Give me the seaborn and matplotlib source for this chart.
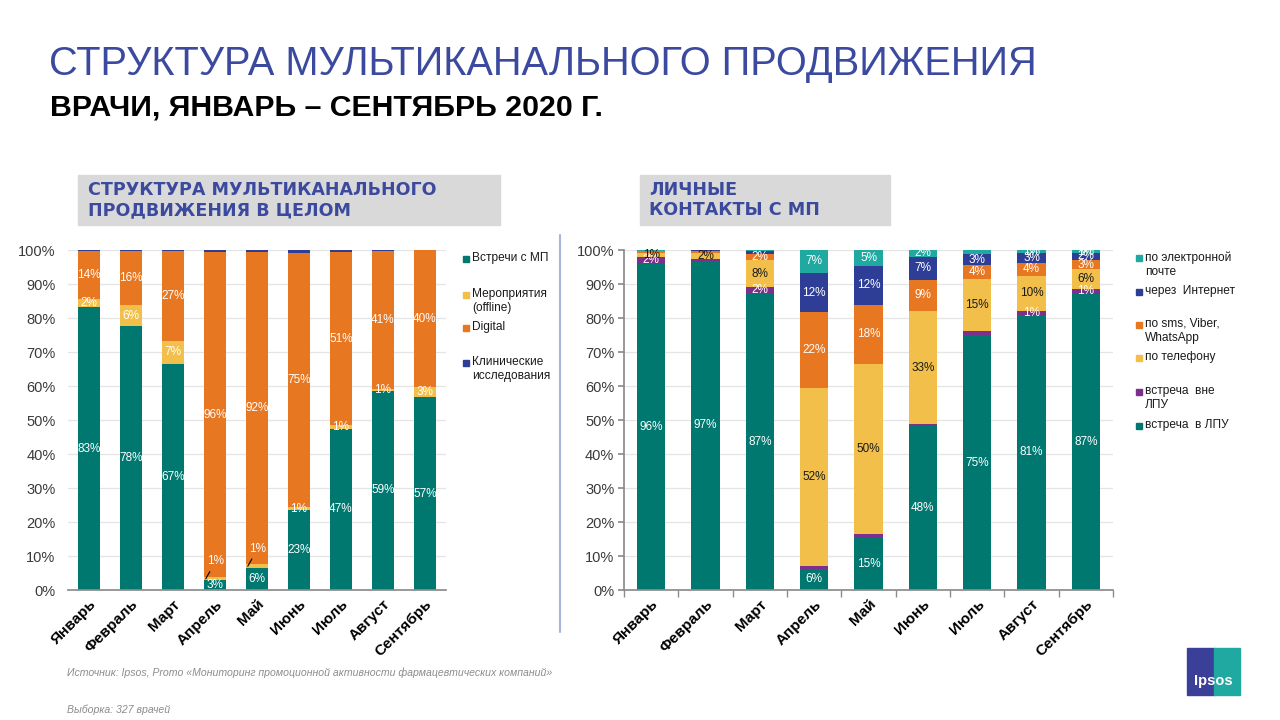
import numpy as np
import pandas as pd
import seaborn as sns
import matplotlib
matplotlib.use("Agg")
import matplotlib.pyplot as plt
from matplotlib.patches import Rectangle
from matplotlib.lines import Line2D

# ---------------- data ----------------
months = ["Январь", "Февраль", "Март", "Апрель", "Май", "Июнь", "Июль", "Август", "Сентябрь"]

# left chart: structure of multichannel promotion overall (bottom -> top)
left_series = ["Встречи с МП", "Мероприятия\n(offline)", "Digital", "Клинические\nисследования"]
left_meetings = [83.2, 77.6, 66.6, 2.9, 6.4, 23.4, 47.4, 58.6, 56.7]
left_events = [2.4, 6.2, 6.6, 0.8, 1.2, 1.0, 1.0, 0.6, 3.0]
left_digital = [14.1, 15.9, 26.6, 95.7, 91.7, 74.6, 51.0, 40.6, 40.2]
left_clinical = [0.3, 0.3, 0.2, 0.6, 0.7, 1.0, 0.6, 0.2, 0.1]

# right chart: personal contacts with MR (bottom -> top)
right_series = ["встреча  в ЛПУ", "встреча  вне\nЛПУ", "по телефону", "по sms, Viber,\nWhatsApp",
                "через  Интернет", "по электронной\nпочте"]
r_in_lpu = [96.0, 96.9, 87.2, 6.3, 15.4, 48.4, 75.0, 81.0, 87.2]
r_out_lpu = [2.0, 0.4, 1.8, 0.8, 1.2, 0.3, 1.2, 1.1, 1.2]
r_phone = [1.0, 1.8, 8.0, 52.4, 49.8, 33.4, 15.3, 10.3, 5.9]
r_sms = [0.6, 0.7, 1.8, 22.2, 17.5, 9.1, 4.2, 3.8, 2.8]
r_internet = [0.2, 0.2, 0.9, 11.6, 11.5, 6.8, 3.0, 2.9, 2.0]
r_email = [0.2, 0.0, 0.3, 6.7, 4.6, 2.0, 1.3, 0.9, 0.9]

# which segments carry a value label in the right chart (series indices per month)
right_labelled = [[0, 1, 2], [0, 2], [0, 1, 2, 3], [0, 2, 3, 4, 5], [0, 2, 3, 4, 5],
                  [0, 2, 3, 4, 5], [0, 2, 3, 4], [0, 1, 2, 3, 4, 5], [0, 1, 2, 3, 4, 5]]

yticks = [0, 10, 20, 30, 40, 50, 60, 70, 80, 90, 100]

# ---------------- style ----------------
TEAL = "#00776f"
YELLOW = "#f2bf4a"
ORANGE = "#e87722"
BLUE = "#2e3e96"
PURPLE = "#7d2f8e"
LTEAL = "#1fa9a0"
TITLE_BLUE = "#3b4a9e"

sns.set_theme(style="white")
plt.rcParams["font.family"] = ["Liberation Sans", "DejaVu Sans"]

fig = plt.figure(figsize=(12.8, 7.2), dpi=100)
fig.patch.set_facecolor("white")

W, H = 1280, 720


def fx(px):
    return px / W


def fy(py):
    return 1 - py / H


# titles
fig.text(fx(49), fy(64), "СТРУКТУРА МУЛЬТИКАНАЛЬНОГО ПРОДВИЖЕНИЯ", fontsize=28.6,
         color=TITLE_BLUE, va="center", ha="left")
fig.text(fx(50), fy(107), "ВРАЧИ, ЯНВАРЬ – СЕНТЯБРЬ 2020 Г.", fontsize=21.8,
         fontweight="bold", color="black", va="center", ha="left")

# grey header boxes
fig.patches.append(Rectangle((fx(78), fy(225)), fx(500 - 78), (225 - 175) / H,
                             transform=fig.transFigure, color="#d9d9d9", zorder=0))
fig.patches.append(Rectangle((fx(640), fy(225)), fx(890 - 640), (225 - 175) / H,
                             transform=fig.transFigure, color="#d9d9d9", zorder=0))
box_font = ["DejaVu Sans"]
fig.text(fx(88), fy(190), "СТРУКТУРА МУЛЬТИКАНАЛЬНОГО", fontsize=12.6, fontweight="bold",
         color=TITLE_BLUE, va="center", ha="left", family=box_font)
fig.text(fx(88), fy(210), "ПРОДВИЖЕНИЯ В ЦЕЛОМ", fontsize=12.6, fontweight="bold",
         color=TITLE_BLUE, va="center", ha="left", family=box_font)
fig.text(fx(649), fy(190), "ЛИЧНЫЕ", fontsize=12.6, fontweight="bold",
         color=TITLE_BLUE, va="center", ha="left", family=box_font)
fig.text(fx(649), fy(210), "КОНТАКТЫ С МП", fontsize=12.6, fontweight="bold",
         color=TITLE_BLUE, va="center", ha="left", family=box_font)

# divider
fig.lines.append(Line2D([fx(560), fx(560)], [fy(235), fy(632)], transform=fig.transFigure,
                        color="#aab3dc", lw=1.5))


def stacked(ax, layers, colors, width):
    cums = np.cumsum(np.array(layers), axis=0)
    for k in range(len(layers) - 1, -1, -1):
        sns.barplot(x=months, y=cums[k], order=months, color=colors[k], width=width,
                    saturation=1, errorbar=None, linewidth=0, ax=ax)
    return cums


def style_axis(ax):
    ax.set_ylim(0, 100)
    ax.set_xlim(-0.5, 8.5)
    ax.set_yticks(yticks)
    ax.set_yticklabels([f"{t}%" for t in yticks], fontsize=10.5, color="#3a3a3a")
    ax.yaxis.grid(True, color="#e4e4e4", lw=0.9)
    ax.set_axisbelow(True)
    ax.set_xlabel("")
    ax.set_ylabel("")
    ax.set_xticks(range(len(months)))
    ax.set_xticklabels(months, rotation=45, ha="right", va="top", rotation_mode="anchor",
                       fontsize=11, fontweight="bold", color="black")
    for s in ["top", "right"]:
        ax.spines[s].set_visible(False)


# ---------------- left chart ----------------
axL = fig.add_axes([fx(68), 1 - 590 / H, fx(446 - 68), 340 / H])
left_layers = [left_meetings, left_events, left_digital, left_clinical]
left_colors = [TEAL, YELLOW, ORANGE, BLUE]
cumL = stacked(axL, left_layers, left_colors, 0.52)
style_axis(axL)
axL.spines["left"].set_visible(False)
axL.spines["bottom"].set_color("#8c8c8c")
axL.tick_params(axis="y", length=0, pad=9)
axL.tick_params(axis="x", length=0, pad=5)

for k in range(3):
    for i in range(len(months)):
        v = left_layers[k][i]
        base = cumL[k][i] - v
        lab = f"{v:.0f}%"
        if k == 1 and i in (3, 4):
            cy = base + v / 2
            axL.annotate(lab, xy=(i - 0.22, cy), xytext=(i + 0.02, cy + 5.2),
                         ha="center", va="center", fontsize=8.5, color="white",
                         arrowprops=dict(arrowstyle="-", color="black", lw=0.8,
                                         shrinkA=1, shrinkB=0))
        else:
            axL.text(i, base + v / 2, lab, ha="center", va="center", fontsize=8.5,
                     color="white")

# ---------------- right chart ----------------
axR = fig.add_axes([fx(624), 1 - 590 / H, fx(1113 - 624), 340 / H])
right_layers = [r_in_lpu, r_out_lpu, r_phone, r_sms, r_internet, r_email]
right_colors = [TEAL, PURPLE, YELLOW, ORANGE, BLUE, LTEAL]
cumR = stacked(axR, right_layers, right_colors, 0.52)
style_axis(axR)
axR.spines["left"].set_color("#8c8c8c")
axR.spines["bottom"].set_color("#8c8c8c")
axR.tick_params(axis="y", length=4, direction="out", color="#8c8c8c", pad=3, left=True)
axR.tick_params(axis="x", length=0, pad=5)
axR.set_xticks(np.arange(-0.5, 9.0, 1.0), minor=True)
axR.tick_params(axis="x", which="minor", length=5, direction="out", color="#8c8c8c", bottom=True)

for i in range(len(months)):
    for k in right_labelled[i]:
        v = right_layers[k][i]
        base = cumR[k][i] - v
        col = "#1a1a1a" if k == 2 else "white"
        axR.text(i, base + v / 2, f"{v:.0f}%", ha="center", va="center", fontsize=8.5,
                 color=col)


# ---------------- legends ----------------
def legend_item(x, y, color, text):
    fig.patches.append(Rectangle((fx(x), fy(y + 3)), fx(6), 6 / H, transform=fig.transFigure,
                                 color=color))
    fig.text(fx(x + 9), fy(y - 7), text, fontsize=8.6, color="#1a1a1a", va="top", ha="left",
             linespacing=1.25)


left_leg_y = [259, 295, 328, 363]
for c, t, y in zip(left_colors, left_series, left_leg_y):
    legend_item(463, y, c, t)

right_leg_y = [258, 292, 325, 358, 392, 426]
right_leg_order = [5, 4, 3, 2, 1, 0]
for y, k in zip(right_leg_y, right_leg_order):
    legend_item(1136, y, right_colors[k], right_series[k])

# ---------------- footer ----------------
fig.text(fx(67), fy(673), "Источник: Ipsos, Promo «Мониторинг промоционной активности фармацевтических компаний»",
         fontsize=7.6, style="italic", color="#8c8c8c", va="center", ha="left")
fig.text(fx(67), fy(710), "Выборка: 327 врачей", fontsize=7.6, style="italic",
         color="#8c8c8c", va="center", ha="left")

# Ipsos logo
fig.patches.append(Rectangle((fx(1187), fy(695)), fx(27), 47 / H, transform=fig.transFigure,
                             color="#3a3f98"))
fig.patches.append(Rectangle((fx(1214), fy(695)), fx(26), 47 / H, transform=fig.transFigure,
                             color="#1fa9a0"))
fig.text(fx(1213), fy(681), "Ipsos", fontsize=10.5, fontweight="bold", color="white",
         ha="center", va="center")

fig.savefig("out.png", dpi=100, facecolor="white")
